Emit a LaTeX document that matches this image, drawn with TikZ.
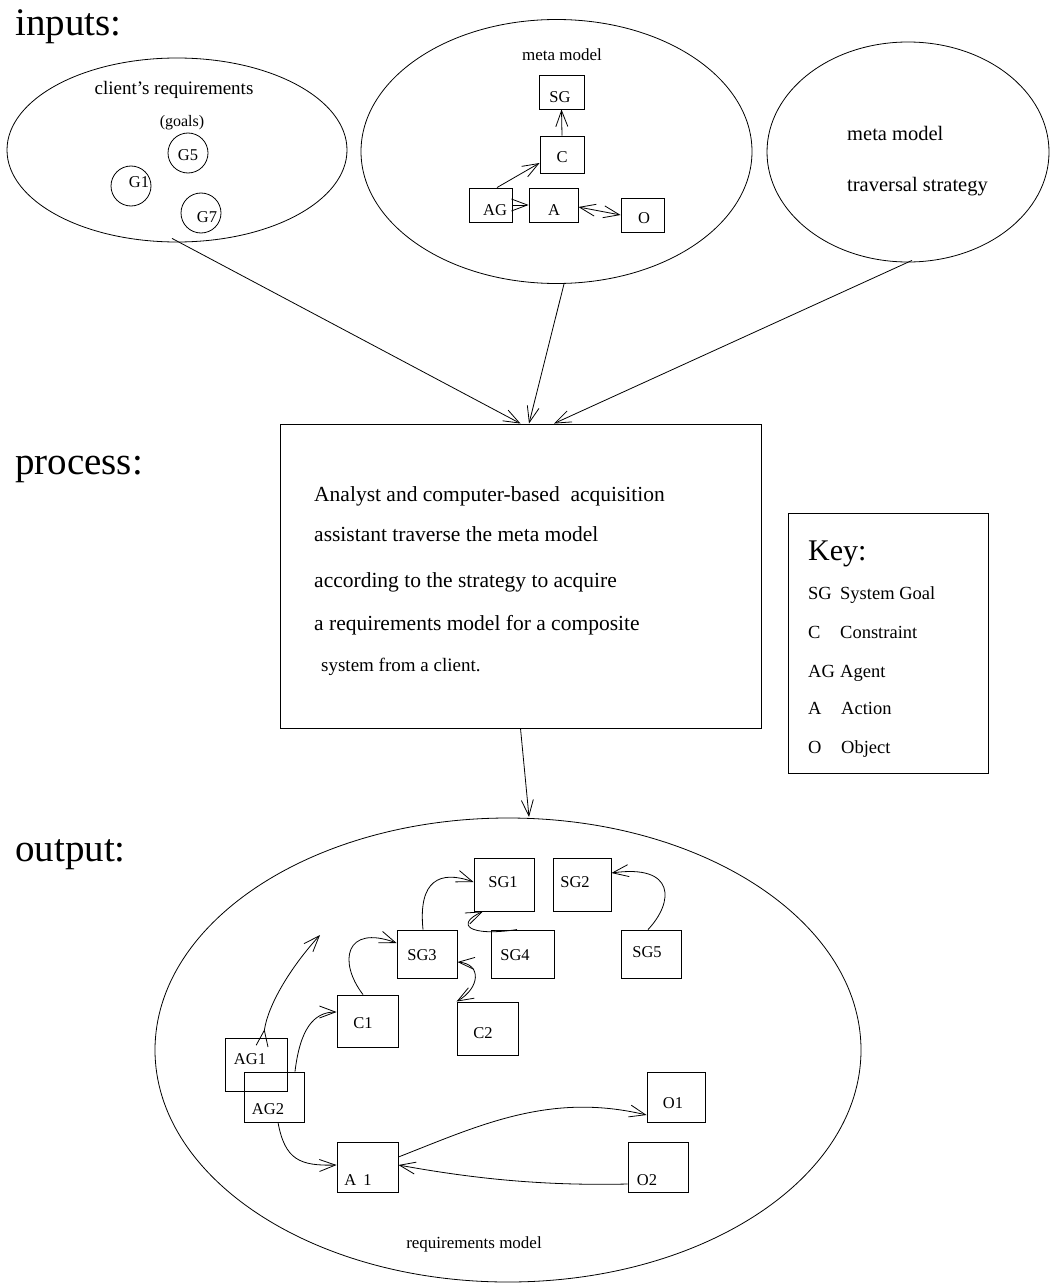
\documentclass[tikz,border=0pt]{standalone}
\usepackage{fontspec}
\setmainfont{Liberation Serif}
\usetikzlibrary{shapes.geometric,arrows.meta}
\newcommand{\fsz}[1]{\fontsize{#1}{#1}\selectfont}

\tikzset{
  region/.style={draw, ellipse, inner sep=0pt, line width=0.8pt},
  box/.style={draw, rectangle, inner sep=0pt, line width=0.9pt},
  goal/.style={draw, circle, inner sep=0pt, minimum size=40pt, line width=0.8pt},
  lbl/.style={inner sep=0pt, font=\fsz{16.5}},
  txt/.style={inner sep=0pt, anchor=base west},
  head/.style={inner sep=0pt, anchor=base west, font=\fsz{39}},
  barb/.tip={Straight Barb[length=16pt,width=12pt]},
  arr/.style={-barb, line width=0.8pt},
  darr/.style={barb-barb, line width=0.8pt},
}

\begin{document}
\begin{tikzpicture}[x=1pt,y=-1pt]
\useasboundingbox (0,0) rectangle (1049,1284);

% section headings
\node[head] (hin)   at (15,36)  {inputs:};
\node[head] (hproc) at (15,474) {process:};
\node[head] (hout)  at (15,861) {output:};

% ---------- inputs: client's requirements ----------
\node[region, minimum width=340pt, minimum height=184pt] (ereq) at (177,150) {};
\node[inner sep=0pt, font=\fsz{19}] (treq) at (174,90) {client’s requirements};
\node[inner sep=0pt, font=\fsz{16}] (tgoals) at (182,123) {(goals)};
\node[goal] (G5) at (188,153) {};
\node[goal] (G1) at (131,186) {};
\node[goal] (G7) at (201,213) {};
\node[lbl] (tG5) at (188,155) {G5};
\node[lbl] (tG1) at (139,182) {G1};
\node[lbl] (tG7) at (207,217) {G7};

% ---------- inputs: meta model ----------
\node[region, minimum width=391pt, minimum height=264pt] (emeta) at (556.5,151.5) {};
\node[inner sep=0pt, font=\fsz{17}] (tmeta) at (562,55) {meta model};
\node[box, minimum width=45pt, minimum height=34pt] (mSG) at (561.5,92) {};
\node[box, minimum width=44pt, minimum height=37pt] (mC)  at (562,154.5) {};
\node[box, minimum width=43pt, minimum height=34pt] (mAG) at (490.5,205) {};
\node[box, minimum width=49pt, minimum height=34pt] (mA)  at (553.5,205) {};
\node[box, minimum width=43pt, minimum height=34pt] (mO)  at (642.5,215) {};
\node[lbl] (tmSG) at (560,97)  {SG};
\node[lbl] (tmC)  at (562,157) {C};
\node[lbl] (tmAG) at (495,210) {AG};
\node[lbl] (tmA)  at (554,210) {A};
\node[lbl] (tmO)  at (644,218) {O};
\draw[arr] (mC.north) -- (mSG.south);
\draw[arr] ([xshift=6.5pt]mAG.north) -- ([yshift=-8.5pt]mC.west);
\draw[arr] (mAG.east) -- (mA.west);
\draw[darr] ([yshift=-2pt]mA.east) -- (mO.west);

% ---------- inputs: traversal strategy ----------
\node[region, minimum width=282pt, minimum height=220pt] (estrat) at (908,152) {};
\node[txt, font=\fsz{20.5}] (tstrat1) at (847,141) {meta model};
\node[txt, font=\fsz{20.5}] (tstrat2) at (847,191) {traversal strategy};

% ---------- process ----------
\node[box, minimum width=481pt, minimum height=304pt] (proc) at (520.5,576) {};
\node[txt, font=\fsz{21.5}] (p1) at (314,501) {Analyst and computer-based \ acquisition};
\node[txt, font=\fsz{21.5}] (p2) at (314,541) {assistant traverse the meta model};
\node[txt, font=\fsz{21.5}] (p3) at (314,587) {according to the strategy to acquire};
\node[txt, font=\fsz{21.5}] (p4) at (314,630) {a requirements model for a composite};
\node[txt, font=\fsz{19}]   (p5) at (321,671) {system from a client.};

\draw[arr] ([shift={(-5pt,4pt)}]ereq.south) -- (proc.north);
\draw[arr] ([xshift=7.5pt]emeta.south) -- ([xshift=8.5pt]proc.north);
\draw[arr] ([shift={(4pt,2pt)}]estrat.south) -- ([xshift=33.5pt]proc.north);

\coordinate (outin) at (529,817);
\draw[arr] (proc.south) -- (outin);

% ---------- key ----------
\node[box, minimum width=200pt, minimum height=260pt] (key) at (888,643) {};
\node[txt, font=\fsz{30}] (kt) at (808,560) {Key:};
\node[txt, font=\fsz{18.5}] (k1a) at (808,599) {SG};
\node[txt, font=\fsz{18.5}] (k1b) at (840,599) {System Goal};
\node[txt, font=\fsz{18.5}] (k2a) at (808,638) {C};
\node[txt, font=\fsz{18.5}] (k2b) at (840,638) {Constraint};
\node[txt, font=\fsz{18.5}] (k3a) at (808,677) {AG};
\node[txt, font=\fsz{18.5}] (k3b) at (840,677) {Agent};
\node[txt, font=\fsz{18.5}] (k4a) at (808,714) {A};
\node[txt, font=\fsz{18.5}] (k4b) at (841,714) {Action};
\node[txt, font=\fsz{18.5}] (k5a) at (808,753) {O};
\node[txt, font=\fsz{18.5}] (k5b) at (841,753) {Object};

% ---------- output: requirements model ----------
\node[region, minimum width=706pt, minimum height=464pt] (eout) at (508,1050) {};
\node[inner sep=0pt, font=\fsz{17}] (tout) at (474,1244) {requirements model};

\node[box, minimum width=60pt, minimum height=53pt] (SG1) at (504,884.5) {};
\node[box, minimum width=58pt, minimum height=53pt] (SG2) at (582,884.5) {};
\node[box, minimum width=60pt, minimum height=48pt] (SG3) at (427,954) {};
\node[box, minimum width=63pt, minimum height=48pt] (SG4) at (522.5,954) {};
\node[box, minimum width=60pt, minimum height=48pt] (SG5) at (651,954) {};
\node[box, minimum width=61pt, minimum height=52pt] (C1)  at (367.5,1021) {};
\node[box, minimum width=61pt, minimum height=53pt] (C2)  at (487.5,1028.5) {};
\node[box, minimum width=62pt, minimum height=53pt] (AG1) at (256,1064.5) {};
\node[box, minimum width=60pt, minimum height=50pt] (AG2) at (274,1097) {};
\node[box, minimum width=61pt, minimum height=50pt] (A1)  at (367.5,1167) {};
\node[box, minimum width=58pt, minimum height=50pt] (O1)  at (676,1097) {};
\node[box, minimum width=60pt, minimum height=50pt] (O2)  at (658,1167) {};

\node[lbl] (tSG1) at (503,882)  {SG1};
\node[lbl] (tSG2) at (575,882)  {SG2};
\node[lbl] (tSG3) at (422,955)  {SG3};
\node[lbl] (tSG4) at (515,955)  {SG4};
\node[lbl] (tSG5) at (647,952)  {SG5};
\node[lbl] (tC1)  at (363,1023) {C1};
\node[lbl] (tC2)  at (483,1033) {C2};
\node[lbl] (tAG1) at (250,1059) {AG1};
\node[lbl] (tAG2) at (268,1109) {AG2};
\node[lbl] (tA1)  at (358,1180) {A\ \,1};
\node[lbl] (tO1)  at (673,1103) {O1};
\node[lbl] (tO2)  at (647,1180) {O2};

\coordinate (agfree) at (320,935);

\draw[arr] ([xshift=-4pt]SG3.north) .. controls (418,880) and (440,870) .. ([yshift=2.5pt]SG1.west);
\draw[arr] ([xshift=-5.5pt]SG4.north) .. controls (468,937) and (455,924) .. ([xshift=-21pt]SG1.south);
\draw[arr] ([xshift=-3pt]SG5.north) .. controls (674,902) and (676,864) .. ([yshift=11.5pt]SG2.east);
\draw[arr] ([xshift=-4.5pt]C1.north) .. controls (338,962) and (345,924) .. ([yshift=11pt]SG3.west);
\draw[darr] (C2.north west) .. controls (480,988) and (482,964) .. ([yshift=-8pt]SG3.east);
\draw[{Straight Barb[length=16pt,width=12pt,reversed]}-barb, line width=0.8pt]
  ([shift={(6pt,-9pt)}]AG1.north) .. controls (268,1005) and (290,968) .. (agfree);
\draw[arr] ([xshift=21pt]AG2.north) .. controls (300,1030) and (313,1012) .. ([yshift=9pt]C1.west);
\draw[arr] ([xshift=4pt]AG2.south) .. controls (285,1160) and (300,1166) .. ([yshift=2pt]A1.west);
\draw[arr] ([yshift=10pt]A1.east) .. controls (480,1125) and (550,1092) .. ([yshift=-18pt]O1.west);
\draw[arr] ([yshift=-17pt]O2.west) .. controls (540,1186) and (470,1178) .. ([yshift=2pt]A1.east);

\end{tikzpicture}
\end{document}
